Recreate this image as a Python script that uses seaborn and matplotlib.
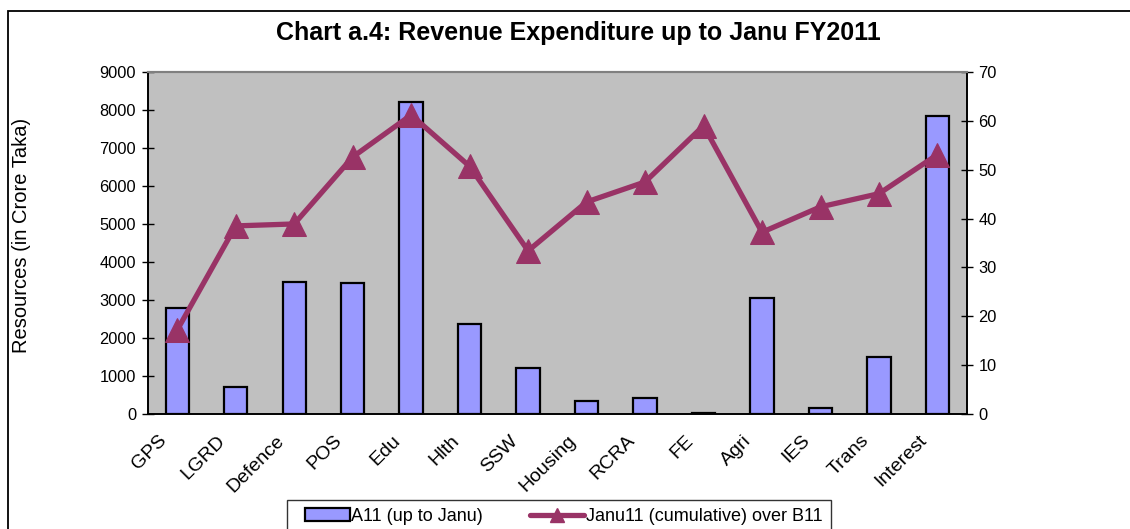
import matplotlib
matplotlib.use("Agg")
from matplotlib import pyplot as plt
from matplotlib.patches import Rectangle, Patch
from matplotlib.lines import Line2D
from matplotlib.legend_handler import HandlerPatch
import matplotlib.transforms as mtrans
import numpy as np
import seaborn as sns

# data
sectors = ['GPS', 'LGRD', 'Defence', 'POS', 'Edu', 'Hlth', 'SSW', 'Housing',
           'RCRA', 'FE', 'Agri', 'IES', 'Trans', 'Interest']
a11_upto_janu = [2790, 720, 3480, 3450, 8210, 2370, 1200, 340,
                 430, 20, 3050, 170, 1490, 7830]
janu11_over_b11 = [17.2, 38.5, 38.9, 52.6, 61.2, 50.7, 33.4, 43.4,
                   47.5, 59.0, 37.2, 42.4, 45.1, 53.1]

sns.set_style("white")
plt.rcParams['font.family'] = ['Liberation Sans', 'DejaVu Sans']
for k in ('text.color', 'axes.labelcolor', 'xtick.color', 'ytick.color'):
    plt.rcParams[k] = 'black'

bar_col = '#9999FF'
line_col = '#993366'

fig = plt.figure(figsize=(11.3, 5.29), dpi=100)
ax = fig.add_axes([148/1130, 1-414/529, (966.7-148)/1130, (414-72)/529])
ax.set_facecolor('#C0C0C0')

sns.barplot(x=sectors, y=a11_upto_janu, ax=ax, color=bar_col, width=0.4,
            edgecolor='black', linewidth=1.6, saturation=1)
ax.set_ylim(0, 9000)
ax.set_yticks(range(0, 9001, 1000))
ax.set_xlim(-0.5, len(sectors)-0.5)

ax2 = ax.twinx()
sns.lineplot(x=np.arange(len(sectors)), y=janu11_over_b11, ax=ax2, color=line_col,
             linewidth=3.8, marker='^', markersize=17, markeredgecolor=line_col,
             markerfacecolor=line_col)
ax2.set_ylim(0, 70)
ax2.set_yticks(range(0, 71, 10))
ax2.set_xlim(-0.5, len(sectors)-0.5)

# axis styling, excel-ish
for a in (ax, ax2):
    for s in a.spines.values():
        s.set_color('black')
        s.set_linewidth(1.2)
    a.spines['top'].set_color('#808080')
    a.spines['top'].set_linewidth(1.5)
    a.grid(False)
ax.tick_params(axis='y', direction='inout', length=9, width=1, labelsize=11.8, pad=4)
ax2.tick_params(axis='y', direction='inout', length=9, width=1, labelsize=11.8, pad=4)

ax.set_xticks(range(len(sectors)))
ax.set_xticklabels(sectors, rotation=45, ha='right', rotation_mode='anchor', fontsize=14)
ax.set_xticks(np.arange(-0.5, len(sectors), 1), minor=True)
ax.tick_params(axis='x', which='major', length=0, pad=13)
ax.tick_params(axis='x', which='minor', direction='out', length=7, width=1)
shift = mtrans.ScaledTranslation(-0.19, 0, fig.dpi_scale_trans)
for lbl in ax.get_xticklabels():
    lbl.set_transform(lbl.get_transform() + shift)
ax.set_xlabel('')
ax.set_ylabel('')

fig.text(578/1130, 1-33/529, 'Chart a.4: Revenue Expenditure up to Janu FY2011',
         ha='center', va='center', fontsize=18, fontweight='bold')
fig.text(22/1130, 1-235/529, 'Resources (in Crore Taka)', rotation=90,
         ha='center', va='center', fontsize=14.5)

# outer chart frame
fig.patches.append(Rectangle((8/1130, -0.1), 1.2, 1-11/529+0.1, transform=fig.transFigure,
                             fill=False, edgecolor='black', linewidth=1.3))


def small_box(legend, orig_handle, xdescent, ydescent, width, height, fontsize):
    w = 32
    return Rectangle((width - w - xdescent, -ydescent), w, height)


handles = [Patch(facecolor=bar_col, edgecolor='black', linewidth=1.6),
           Line2D([0], [0], color=line_col, linewidth=3.8, marker='^', markersize=10)]
leg = fig.legend(handles, ['A11 (up to Janu)', 'Janu11 (cumulative) over B11'],
                 loc='upper center', bbox_to_anchor=(559/1130, 1-500/529), ncol=2,
                 fontsize=13, frameon=True, fancybox=False, handlelength=3.0,
                 handletextpad=0.1, columnspacing=2.6, borderpad=0.45,
                 borderaxespad=0, handler_map={Patch: HandlerPatch(patch_func=small_box)})
leg.get_frame().set_edgecolor('black')
leg.get_frame().set_linewidth(1)

fig.savefig('out.png', dpi=100)
